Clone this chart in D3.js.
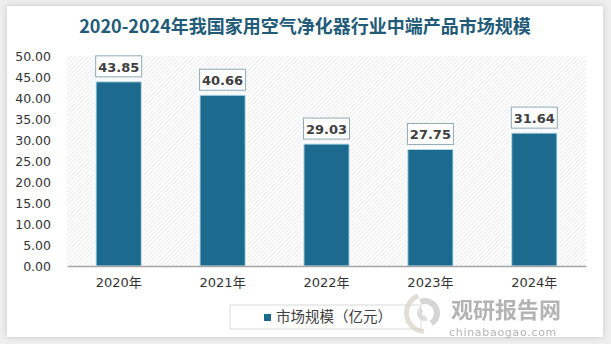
<!DOCTYPE html>
<html><head><meta charset="utf-8">
<script src="https://cdn.jsdelivr.net/npm/d3@7/dist/d3.min.js"></script>
<style>html,body{margin:0;padding:0;background:#e8e8e8;}svg{display:block;}</style>
</head><body><div id="chart"></div>
<script>
const categories = ["2020年","2021年","2022年","2023年","2024年"];
const values = [43.85, 40.66, 29.03, 27.75, 31.64];
const yTicks = [0,5,10,15,20,25,30,35,40,45,50];
const title = "2020-2024年我国家用空气净化器行业中端产品市场规模";
const seriesName = "市场规模（亿元）";

const W = 611, H = 344;
const svg = d3.select("#chart").append("svg").attr("width", W).attr("height", H);
const defs = svg.append("defs");
const pat = defs.append("pattern").attr("id","hatch").attr("patternUnits","userSpaceOnUse")
  .attr("width",3).attr("height",3).attr("patternTransform","rotate(45)");
pat.append("rect").attr("width",3).attr("height",3).attr("fill","#ffffff");
pat.append("line").attr("x1",0).attr("y1",0).attr("x2",0).attr("y2",3).attr("stroke","#dedede").attr("stroke-width",1.2);
const sh = defs.append("filter").attr("id","shadow").attr("x","-5%").attr("y","-5%").attr("width","110%").attr("height","110%");
sh.append("feDropShadow").attr("dx",0).attr("dy",0).attr("stdDeviation",3).attr("flood-color","#000").attr("flood-opacity",0.18);

svg.append("rect").attr("width",W).attr("height",H).attr("fill","#efefef");
svg.append("rect").attr("x",7).attr("y",6).attr("width",596).attr("height",331).attr("fill","#fff").attr("filter","url(#shadow)");

svg.append("text").attr("x",305).attr("y",33).attr("text-anchor","middle")
  .attr("font-family","'Noto Sans CJK SC', sans-serif").attr("font-weight","bold").attr("font-size",18)
  .attr("fill","#215b78").text(title);

const m = {left:67, right:586, top:56, bottom:266};
const x = d3.scaleBand().domain(categories).range([m.left, m.right]).paddingInner(0.565).paddingOuter(0.28);
const y = d3.scaleLinear().domain([0,50]).range([m.bottom, m.top]);

svg.append("rect").attr("x",m.left).attr("y",m.top).attr("width",m.right-m.left).attr("height",m.bottom-m.top).attr("fill","url(#hatch)");

const yAxis = d3.axisLeft(y).tickValues(yTicks).tickFormat(d3.format(".2f")).tickSize(0).tickPadding(0);
const gy = svg.append("g").attr("transform",`translate(51,0)`).call(yAxis);
gy.select(".domain").remove();
gy.selectAll("text").attr("font-family","'DejaVu Sans', sans-serif").attr("font-size",12.5).attr("fill","#333");

// bars
svg.append("g").selectAll("rect").data(values).join("rect")
  .attr("x",(d,i)=>x(categories[i])-2).attr("y",d=>y(d)-2)
  .attr("width",x.bandwidth()+4).attr("height",d=>y(0)-y(d)+2).attr("fill","#ffffff");
svg.append("g").selectAll("rect").data(values).join("rect")
  .attr("x",(d,i)=>x(categories[i])).attr("y",d=>y(d))
  .attr("width",x.bandwidth()).attr("height",d=>y(0)-y(d))
  .attr("fill","#1c6a8e").attr("stroke","#b7dbe9").attr("stroke-width",1);

// axis line
const gx = svg.append("g").attr("transform",`translate(0,${m.bottom})`)
  .call(d3.axisBottom(x).tickSize(0).tickPadding(12));
gx.select(".domain").attr("stroke","#a6a6a6").attr("stroke-width",1.3);
gx.selectAll("text").attr("font-family","'DejaVu Sans', 'Noto Sans CJK SC', sans-serif").attr("font-size",13).attr("fill","#333");

// labels
const lab = svg.append("g").selectAll("g").data(values).join("g")
  .attr("transform",(d,i)=>`translate(${x(categories[i])+x.bandwidth()/2},${y(d)-15})`);
lab.append("rect").attr("x",-23).attr("y",-11).attr("width",46).attr("height",21)
  .attr("fill","#fff").attr("stroke","#8fa9b5").attr("stroke-width",1);
lab.append("text").attr("text-anchor","middle").attr("dy","0.36em")
  .attr("font-family","'DejaVu Sans', sans-serif").attr("font-weight","bold").attr("font-size",13).attr("fill","#404040")
  .text(d=>d3.format(".2f")(d));

// legend
const lg = svg.append("g");
lg.append("rect").attr("x",230).attr("y",305).attr("width",191).attr("height",24).attr("fill","#fff").attr("stroke","#d9d9d9");
lg.append("rect").attr("x",264).attr("y",314).attr("width",7).attr("height",7).attr("fill","#1c6a8e");
lg.append("text").attr("x",276).attr("y",322).attr("font-family","'Noto Sans CJK SC', sans-serif").attr("font-size",14.5).attr("fill","#404040").text(seriesName);

// watermark
const wm = svg.append("g").attr("opacity",0.75);
const arc = d3.arc();
wm.append("path").attr("transform","translate(425,313)").attr("d",arc({innerRadius:9,outerRadius:15,startAngle:-0.4,endAngle:2.6})).attr("fill","#c8c8c8");
wm.append("path").attr("transform","translate(425,313)").attr("d",arc({innerRadius:3,outerRadius:8,startAngle:2.8,endAngle:5.6})).attr("fill","#d4d4d4");
wm.append("path").attr("transform","translate(425,313)").attr("d",arc({innerRadius:16,outerRadius:21,startAngle:3.2,endAngle:5.9})).attr("fill","#d8d4c8");
wm.append("text").attr("x",451).attr("y",318).attr("font-family","'Noto Sans CJK SC', sans-serif").attr("font-weight","bold").attr("font-size",22).attr("fill","#9a9a9a").text("观研报告网");
wm.append("text").attr("x",449).attr("y",336).attr("font-family","'DejaVu Sans', sans-serif").attr("font-size",11).attr("fill","#9a9a9a").attr("letter-spacing",0.7).text("chinabaogao.com");
</script></body></html>
